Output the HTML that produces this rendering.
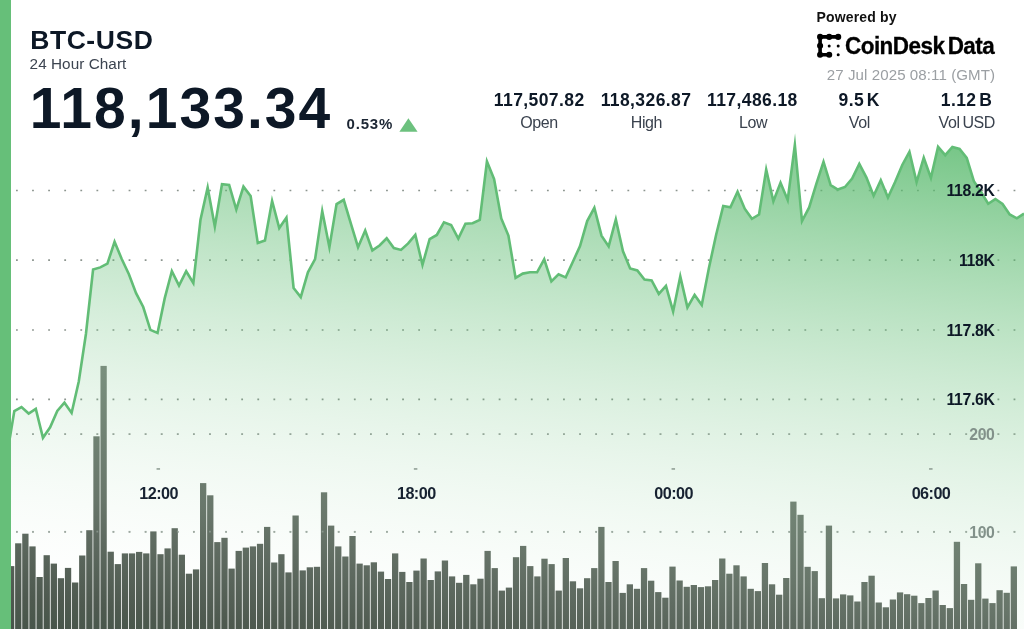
<!DOCTYPE html>
<html lang="en"><head><meta charset="utf-8"><title>BTC-USD 24 Hour Chart</title>
<style>
html,body{margin:0;padding:0;background:#fff}
body{width:1024px;height:629px;position:relative;overflow:hidden;font-family:"Liberation Sans",sans-serif;color:#0d1826}
svg.chart{position:absolute;left:0;top:0}
#txt{position:absolute;left:0;top:0;width:1024px;height:629px;will-change:transform}
.t{position:absolute;white-space:nowrap;line-height:1;margin:0}
.b{font-weight:bold}
.c{transform:translateX(-50%);text-align:center}
.r{transform:translateX(-100%);text-align:right}
.pair{left:30.2px;top:26.6px;font-size:26.5px;letter-spacing:.57px}
.sub{left:29.6px;top:55.8px;font-size:15.3px;letter-spacing:.05px;color:#3c4450}
.price{left:29.7px;top:80.1px;font-size:57px;letter-spacing:2.05px}
.pct{left:346.6px;top:116.3px;font-size:15px;letter-spacing:.78px;color:#1c2634}
.num{top:91.9px;font-size:17.5px;letter-spacing:.41px;word-spacing:-2.5px}
.lab{top:114.6px;font-size:16px;letter-spacing:-.4px;word-spacing:-1.2px;color:#3a424e}
.pow{left:816.5px;top:10.1px;font-size:14px;letter-spacing:.17px;color:#111}
.brand{left:845.2px;top:34.5px;font-size:23.3px;letter-spacing:-.55px;color:#000;word-spacing:-2.6px;transform-origin:0 0;transform:scaleX(.965);-webkit-text-stroke:.3px #000}
.date{left:995.2px;top:67.4px;font-size:15.1px;letter-spacing:.08px;color:#9b9fa3}
.ax{font-size:15.8px;letter-spacing:-.32px}
.tm{top:484.6px;font-size:16.2px;letter-spacing:-.55px;color:#172231}
.vol{color:#82918a}
</style></head><body>
<svg class="chart" width="1024" height="629" viewBox="0 0 1024 629">
<defs>
<linearGradient id="ga" gradientUnits="userSpaceOnUse" x1="1024" y1="136" x2="951.1" y2="743.1"><stop offset="0" stop-color="#5aba6e" stop-opacity="0.8750"/><stop offset="0.05" stop-color="#5aba6e" stop-opacity="0.7897"/><stop offset="0.1" stop-color="#5aba6e" stop-opacity="0.7087"/><stop offset="0.15" stop-color="#5aba6e" stop-opacity="0.6322"/><stop offset="0.2" stop-color="#5aba6e" stop-opacity="0.5600"/><stop offset="0.25" stop-color="#5aba6e" stop-opacity="0.4922"/><stop offset="0.3" stop-color="#5aba6e" stop-opacity="0.4287"/><stop offset="0.35" stop-color="#5aba6e" stop-opacity="0.3697"/><stop offset="0.4" stop-color="#5aba6e" stop-opacity="0.3150"/><stop offset="0.45" stop-color="#5aba6e" stop-opacity="0.2647"/><stop offset="0.5" stop-color="#5aba6e" stop-opacity="0.2188"/><stop offset="0.55" stop-color="#5aba6e" stop-opacity="0.1772"/><stop offset="0.6" stop-color="#5aba6e" stop-opacity="0.1400"/><stop offset="0.65" stop-color="#5aba6e" stop-opacity="0.1072"/><stop offset="0.7" stop-color="#5aba6e" stop-opacity="0.0788"/><stop offset="0.75" stop-color="#5aba6e" stop-opacity="0.0547"/><stop offset="0.8" stop-color="#5aba6e" stop-opacity="0.0350"/><stop offset="0.85" stop-color="#5aba6e" stop-opacity="0.0197"/><stop offset="0.9" stop-color="#5aba6e" stop-opacity="0.0087"/><stop offset="0.95" stop-color="#5aba6e" stop-opacity="0.0022"/><stop offset="1" stop-color="#5aba6e" stop-opacity="0.0000"/></linearGradient>
<linearGradient id="gb" gradientUnits="userSpaceOnUse" x1="1024" y1="136" x2="951.1" y2="743.1"><stop offset="0.5" stop-color="#7e9582"/><stop offset="0.566" stop-color="#788e7c"/><stop offset="0.77" stop-color="#68766a"/><stop offset="0.83" stop-color="#5f6b61"/><stop offset="0.946" stop-color="#4e594f"/><stop offset="0.968" stop-color="#4b584d"/><stop offset="1" stop-color="#47544a"/></linearGradient>
</defs>
<g stroke="#8c958f" stroke-width="1.7" stroke-dasharray="1.8 14.29" fill="none"><line x1="-0.1" x2="1024" y1="190.5" y2="190.5"/><line x1="-0.1" x2="1024" y1="260.2" y2="260.2"/><line x1="-0.1" x2="1024" y1="330" y2="330"/><line x1="-0.1" x2="1024" y1="399.4" y2="399.4"/><line x1="-0.1" x2="1024" y1="434.2" y2="434.2"/><line x1="-0.1" x2="1024" y1="531.8" y2="531.8"/></g>
<path d="M0 470 L7.16 454 L14.32 411 L21.48 407.08 L28.64 413.57 L35.8 408.87 L42.97 437.77 L50.13 427.3 L57.29 411 L64.45 402.73 L71.61 412.92 L78.77 381.5 L85.93 334 L93.09 269.5 L100.25 267.4 L107.41 263.7 L114.57 241.77 L121.73 259 L128.9 274.2 L136.06 293.1 L143.22 307 L150.38 329.9 L157.54 332.9 L164.7 298.4 L171.86 271.12 L179.02 285.6 L186.18 271.28 L193.34 283 L200.5 219.6 L207.66 187.43 L214.83 226.6 L221.99 184.18 L229.15 185 L236.31 209.5 L243.47 186.61 L250.63 196 L257.79 243.1 L264.95 240.6 L272.11 200.97 L279.27 228.1 L286.43 217.59 L293.59 288 L300.76 297.1 L307.92 272.3 L315.08 259.2 L322.24 211.01 L329.4 247.2 L336.56 204.1 L343.72 199.78 L350.88 223.7 L358.04 247.2 L365.2 230.51 L372.36 250.4 L379.52 245.5 L386.69 238.31 L393.85 248.1 L401.01 249.9 L408.17 243.4 L415.33 234.85 L422.49 264.8 L429.65 239 L436.81 235 L443.97 222.34 L451.13 225 L458.29 238.6 L465.45 223.7 L472.62 223.2 L479.78 219.8 L486.94 161.49 L494.1 179.1 L501.26 218.5 L508.42 235.6 L515.58 277.9 L522.74 273.6 L529.9 272.3 L537.06 272.3 L544.22 259.27 L551.38 281.4 L558.55 274.24 L565.71 277.4 L572.87 261.8 L580.03 246 L587.19 221.1 L594.35 207.77 L601.51 235.6 L608.67 246.4 L615.83 219.4 L622.99 251.3 L630.15 268.4 L637.31 270.5 L644.48 279.5 L651.64 280.5 L658.8 293.9 L665.96 285.89 L673.12 311.4 L680.28 276.37 L687.44 307.4 L694.6 294.96 L701.76 305 L708.92 268 L716.08 235 L723.24 206.05 L730.41 207.3 L737.57 191.73 L744.73 208.7 L751.89 218.8 L759.05 214.5 L766.21 169.57 L773.37 201.3 L780.53 182.68 L787.69 200 L794.85 144.97 L802.01 221 L809.17 207.4 L816.34 183.8 L823.5 161.72 L830.66 185.1 L837.82 189.5 L844.98 187 L852.14 178.5 L859.3 163.85 L866.46 177.6 L873.62 195.74 L880.78 180.33 L887.94 197.59 L895.1 182.1 L902.27 165 L909.43 151.85 L916.59 182.08 L923.75 157.73 L930.91 177.83 L938.07 146.87 L945.23 155.19 L952.39 146.94 L959.55 148.9 L966.71 157.9 L973.87 181.2 L981.03 192 L988.2 203.78 L995.36 199.05 L1002.52 204 L1009.68 214.5 L1016.84 218.35 L1024 213.6 L1024 629 L0 629 Z" fill="url(#ga)"/>
<path d="M0 470 L7.16 454 L14.32 411 L21.48 407.08 L28.64 413.57 L35.8 408.87 L42.97 437.77 L50.13 427.3 L57.29 411 L64.45 402.73 L71.61 412.92 L78.77 381.5 L85.93 334 L93.09 269.5 L100.25 267.4 L107.41 263.7 L114.57 241.77 L121.73 259 L128.9 274.2 L136.06 293.1 L143.22 307 L150.38 329.9 L157.54 332.9 L164.7 298.4 L171.86 271.12 L179.02 285.6 L186.18 271.28 L193.34 283 L200.5 219.6 L207.66 187.43 L214.83 226.6 L221.99 184.18 L229.15 185 L236.31 209.5 L243.47 186.61 L250.63 196 L257.79 243.1 L264.95 240.6 L272.11 200.97 L279.27 228.1 L286.43 217.59 L293.59 288 L300.76 297.1 L307.92 272.3 L315.08 259.2 L322.24 211.01 L329.4 247.2 L336.56 204.1 L343.72 199.78 L350.88 223.7 L358.04 247.2 L365.2 230.51 L372.36 250.4 L379.52 245.5 L386.69 238.31 L393.85 248.1 L401.01 249.9 L408.17 243.4 L415.33 234.85 L422.49 264.8 L429.65 239 L436.81 235 L443.97 222.34 L451.13 225 L458.29 238.6 L465.45 223.7 L472.62 223.2 L479.78 219.8 L486.94 161.49 L494.1 179.1 L501.26 218.5 L508.42 235.6 L515.58 277.9 L522.74 273.6 L529.9 272.3 L537.06 272.3 L544.22 259.27 L551.38 281.4 L558.55 274.24 L565.71 277.4 L572.87 261.8 L580.03 246 L587.19 221.1 L594.35 207.77 L601.51 235.6 L608.67 246.4 L615.83 219.4 L622.99 251.3 L630.15 268.4 L637.31 270.5 L644.48 279.5 L651.64 280.5 L658.8 293.9 L665.96 285.89 L673.12 311.4 L680.28 276.37 L687.44 307.4 L694.6 294.96 L701.76 305 L708.92 268 L716.08 235 L723.24 206.05 L730.41 207.3 L737.57 191.73 L744.73 208.7 L751.89 218.8 L759.05 214.5 L766.21 169.57 L773.37 201.3 L780.53 182.68 L787.69 200 L794.85 144.97 L802.01 221 L809.17 207.4 L816.34 183.8 L823.5 161.72 L830.66 185.1 L837.82 189.5 L844.98 187 L852.14 178.5 L859.3 163.85 L866.46 177.6 L873.62 195.74 L880.78 180.33 L887.94 197.59 L895.1 182.1 L902.27 165 L909.43 151.85 L916.59 182.08 L923.75 157.73 L930.91 177.83 L938.07 146.87 L945.23 155.19 L952.39 146.94 L959.55 148.9 L966.71 157.9 L973.87 181.2 L981.03 192 L988.2 203.78 L995.36 199.05 L1002.52 204 L1009.68 214.5 L1016.84 218.35 L1024 213.6" fill="none" stroke="#62bd76" stroke-width="2.6" stroke-linejoin="miter" stroke-miterlimit="14"/>
<g fill="url(#gb)"><rect x="0.9" y="575" width="6.3" height="54"/><rect x="8.01" y="566.1" width="6.3" height="62.9"/><rect x="15.12" y="543.3" width="6.3" height="85.7"/><rect x="22.23" y="533.7" width="6.3" height="95.3"/><rect x="29.34" y="546.4" width="6.3" height="82.6"/><rect x="36.46" y="577" width="6.3" height="52"/><rect x="43.57" y="555.2" width="6.3" height="73.8"/><rect x="50.68" y="563.6" width="6.3" height="65.4"/><rect x="57.79" y="578.2" width="6.3" height="50.8"/><rect x="64.9" y="567.9" width="6.3" height="61.1"/><rect x="72.01" y="582.5" width="6.3" height="46.5"/><rect x="79.12" y="555.5" width="6.3" height="73.5"/><rect x="86.23" y="530.2" width="6.3" height="98.8"/><rect x="93.34" y="436.3" width="6.3" height="192.7"/><rect x="100.46" y="365.9" width="6.3" height="263.1"/><rect x="107.57" y="551.7" width="6.3" height="77.3"/><rect x="114.68" y="564.1" width="6.3" height="64.9"/><rect x="121.79" y="553.4" width="6.3" height="75.6"/><rect x="128.9" y="553.4" width="6.3" height="75.6"/><rect x="136.01" y="551.9" width="6.3" height="77.1"/><rect x="143.12" y="553.4" width="6.3" height="75.6"/><rect x="150.23" y="531.4" width="6.3" height="97.6"/><rect x="157.34" y="554.2" width="6.3" height="74.8"/><rect x="164.46" y="548.4" width="6.3" height="80.6"/><rect x="171.57" y="528.2" width="6.3" height="100.8"/><rect x="178.68" y="554.7" width="6.3" height="74.3"/><rect x="185.79" y="573.7" width="6.3" height="55.3"/><rect x="192.9" y="569.4" width="6.3" height="59.6"/><rect x="200.01" y="483.1" width="6.3" height="145.9"/><rect x="207.12" y="495.3" width="6.3" height="133.7"/><rect x="214.23" y="542.1" width="6.3" height="86.9"/><rect x="221.34" y="537.8" width="6.3" height="91.2"/><rect x="228.46" y="568.6" width="6.3" height="60.4"/><rect x="235.57" y="550.9" width="6.3" height="78.1"/><rect x="242.68" y="547.6" width="6.3" height="81.4"/><rect x="249.79" y="546.4" width="6.3" height="82.6"/><rect x="256.9" y="543.8" width="6.3" height="85.2"/><rect x="264.01" y="526.9" width="6.3" height="102.1"/><rect x="271.12" y="562.5" width="6.3" height="66.5"/><rect x="278.23" y="554.2" width="6.3" height="74.8"/><rect x="285.34" y="572.4" width="6.3" height="56.6"/><rect x="292.46" y="515.5" width="6.3" height="113.5"/><rect x="299.57" y="570.4" width="6.3" height="58.6"/><rect x="306.68" y="567.3" width="6.3" height="61.7"/><rect x="313.79" y="566.8" width="6.3" height="62.2"/><rect x="320.9" y="492.3" width="6.3" height="136.7"/><rect x="328.01" y="525.6" width="6.3" height="103.4"/><rect x="335.12" y="546.4" width="6.3" height="82.6"/><rect x="342.23" y="556.5" width="6.3" height="72.5"/><rect x="349.34" y="536" width="6.3" height="93"/><rect x="356.46" y="563.6" width="6.3" height="65.4"/><rect x="363.57" y="565.3" width="6.3" height="63.7"/><rect x="370.68" y="562.3" width="6.3" height="66.7"/><rect x="377.79" y="571.6" width="6.3" height="57.4"/><rect x="384.9" y="579" width="6.3" height="50"/><rect x="392.01" y="553.4" width="6.3" height="75.6"/><rect x="399.12" y="571.9" width="6.3" height="57.1"/><rect x="406.23" y="582" width="6.3" height="47"/><rect x="413.34" y="570.6" width="6.3" height="58.4"/><rect x="420.46" y="558.5" width="6.3" height="70.5"/><rect x="427.57" y="580" width="6.3" height="49"/><rect x="434.68" y="571.4" width="6.3" height="57.6"/><rect x="441.79" y="560.5" width="6.3" height="68.5"/><rect x="448.9" y="576.4" width="6.3" height="52.6"/><rect x="456.01" y="582.8" width="6.3" height="46.2"/><rect x="463.12" y="574.9" width="6.3" height="54.1"/><rect x="470.23" y="584.3" width="6.3" height="44.7"/><rect x="477.34" y="578.7" width="6.3" height="50.3"/><rect x="484.46" y="550.9" width="6.3" height="78.1"/><rect x="491.57" y="568.1" width="6.3" height="60.9"/><rect x="498.68" y="590.6" width="6.3" height="38.4"/><rect x="505.79" y="587.6" width="6.3" height="41.4"/><rect x="512.9" y="557.2" width="6.3" height="71.8"/><rect x="520.01" y="545.9" width="6.3" height="83.1"/><rect x="527.12" y="566.1" width="6.3" height="62.9"/><rect x="534.23" y="576.4" width="6.3" height="52.6"/><rect x="541.34" y="558.7" width="6.3" height="70.3"/><rect x="548.46" y="564.1" width="6.3" height="64.9"/><rect x="555.57" y="590.6" width="6.3" height="38.4"/><rect x="562.68" y="558" width="6.3" height="71"/><rect x="569.79" y="581.3" width="6.3" height="47.7"/><rect x="576.9" y="588.3" width="6.3" height="40.7"/><rect x="584.01" y="578.2" width="6.3" height="50.8"/><rect x="591.12" y="568.1" width="6.3" height="60.9"/><rect x="598.23" y="526.9" width="6.3" height="102.1"/><rect x="605.34" y="582" width="6.3" height="47"/><rect x="612.46" y="561" width="6.3" height="68"/><rect x="619.57" y="592.9" width="6.3" height="36.1"/><rect x="626.68" y="584.3" width="6.3" height="44.7"/><rect x="633.79" y="588.8" width="6.3" height="40.2"/><rect x="640.9" y="568.1" width="6.3" height="60.9"/><rect x="648.01" y="580.7" width="6.3" height="48.3"/><rect x="655.12" y="592.1" width="6.3" height="36.9"/><rect x="662.23" y="597.7" width="6.3" height="31.3"/><rect x="669.34" y="566.6" width="6.3" height="62.4"/><rect x="676.46" y="580.5" width="6.3" height="48.5"/><rect x="683.57" y="586.8" width="6.3" height="42.2"/><rect x="690.68" y="585" width="6.3" height="44"/><rect x="697.79" y="587.1" width="6.3" height="41.9"/><rect x="704.9" y="586.3" width="6.3" height="42.7"/><rect x="712.01" y="580" width="6.3" height="49"/><rect x="719.12" y="558.5" width="6.3" height="70.5"/><rect x="726.23" y="573.7" width="6.3" height="55.3"/><rect x="733.34" y="565.3" width="6.3" height="63.7"/><rect x="740.46" y="576.4" width="6.3" height="52.6"/><rect x="747.57" y="588.8" width="6.3" height="40.2"/><rect x="754.68" y="591.1" width="6.3" height="37.9"/><rect x="761.79" y="563" width="6.3" height="66"/><rect x="768.9" y="584.3" width="6.3" height="44.7"/><rect x="776.01" y="594.7" width="6.3" height="34.3"/><rect x="783.12" y="578" width="6.3" height="51"/><rect x="790.23" y="501.6" width="6.3" height="127.4"/><rect x="797.34" y="514.8" width="6.3" height="114.2"/><rect x="804.46" y="566.8" width="6.3" height="62.2"/><rect x="811.57" y="571.1" width="6.3" height="57.9"/><rect x="818.68" y="598.2" width="6.3" height="30.8"/><rect x="825.79" y="525.6" width="6.3" height="103.4"/><rect x="832.9" y="598.4" width="6.3" height="30.6"/><rect x="840.01" y="594.4" width="6.3" height="34.6"/><rect x="847.12" y="595.4" width="6.3" height="33.6"/><rect x="854.23" y="601.5" width="6.3" height="27.5"/><rect x="861.34" y="582" width="6.3" height="47"/><rect x="868.46" y="575.7" width="6.3" height="53.3"/><rect x="875.57" y="602.5" width="6.3" height="26.5"/><rect x="882.68" y="607.3" width="6.3" height="21.7"/><rect x="889.79" y="599.5" width="6.3" height="29.5"/><rect x="896.9" y="592.4" width="6.3" height="36.6"/><rect x="904.01" y="594.2" width="6.3" height="34.8"/><rect x="911.12" y="595.7" width="6.3" height="33.3"/><rect x="918.23" y="603.1" width="6.3" height="25.9"/><rect x="925.34" y="598" width="6.3" height="31"/><rect x="932.46" y="590.5" width="6.3" height="38.5"/><rect x="939.57" y="605" width="6.3" height="24"/><rect x="946.68" y="608.1" width="6.3" height="20.9"/><rect x="953.79" y="541.8" width="6.3" height="87.2"/><rect x="960.9" y="584" width="6.3" height="45"/><rect x="968.01" y="599.8" width="6.3" height="29.2"/><rect x="975.12" y="563.3" width="6.3" height="65.7"/><rect x="982.23" y="598.6" width="6.3" height="30.4"/><rect x="989.34" y="603.1" width="6.3" height="25.9"/><rect x="996.46" y="590.2" width="6.3" height="38.8"/><rect x="1003.57" y="592.8" width="6.3" height="36.2"/><rect x="1010.68" y="566.4" width="6.3" height="62.6"/></g>
<g stroke="#b4c0b8" stroke-opacity=".45" stroke-width="1.7" stroke-dasharray="1.8 14.29" fill="none"><line x1="-0.1" x2="1024" y1="434" y2="434"/><line x1="-0.1" x2="1024" y1="531.7" y2="531.7"/></g>
<rect x="156.55" y="468.2" width="3.5" height="1.5" fill="#8a9a90"/><rect x="413.85" y="468.2" width="3.5" height="1.5" fill="#8a9a90"/><rect x="671.55" y="468.2" width="3.5" height="1.5" fill="#8a9a90"/><rect x="929.05" y="468.2" width="3.5" height="1.5" fill="#8a9a90"/>
<rect x="0" y="0" width="11" height="629" fill="#66bf79"/>
<polygon points="408.4,118.2 417.6,131.8 399.4,131.8" fill="#6cc17e"/>
<g fill="#000" stroke="#000" stroke-width="3.1" stroke-linecap="round" stroke-linejoin="round">
<path d="M838.2 36.9 H820.1 V54.8 H829.2" fill="none" stroke-width="3.6"/>
<circle cx="820.1" cy="36.9" r="1.5"/><circle cx="829.2" cy="36.9" r="1.5"/><circle cx="838.2" cy="36.9" r="1.5"/>
<circle cx="820.1" cy="45.8" r="1.5"/><circle cx="820.1" cy="54.8" r="1.5"/><circle cx="829.2" cy="54.8" r="1.5"/>
</g>
<g fill="#000"><circle cx="829.2" cy="45.9" r="1.5"/><circle cx="838.2" cy="45.9" r="1.5"/><circle cx="838.2" cy="54.8" r="1.5"/></g>
</svg>
<div id="txt"><div class="t b pair">BTC-USD</div>
<div class="t sub">24 Hour Chart</div>
<div class="t b price">118,133.34</div>
<div class="t b pct">0.53%</div>
<div class="t b pow">Powered by</div>
<div class="t b brand">CoinDesk Data</div>
<div class="t r date">27 Jul 2025 08:11 (GMT)</div>
<div class="t b c num" style="left:539.2px">117,507.82</div><div class="t c lab" style="left:539px">Open</div>
<div class="t b c num" style="left:646px">118,326.87</div><div class="t c lab" style="left:646.4px">High</div>
<div class="t b c num" style="left:752.4px">117,486.18</div><div class="t c lab" style="left:753px">Low</div>
<div class="t b c num" style="left:859.2px">9.5 K</div><div class="t c lab" style="left:859.4px">Vol</div>
<div class="t b c num" style="left:966.5px">1.12 B</div><div class="t c lab" style="left:966.8px">Vol USD</div>
<div class="t b r ax" style="left:994.6px;top:183px">118.2K</div>
<div class="t b r ax" style="left:994.6px;top:253px">118K</div>
<div class="t b r ax" style="left:994.6px;top:323px">117.8K</div>
<div class="t b r ax" style="left:994.6px;top:392px">117.6K</div>
<div class="t b r ax vol" style="left:994.6px;top:427px">200</div>
<div class="t b r ax vol" style="left:994.6px;top:525px">100</div>
<div class="t b c tm" style="left:158.6px">12:00</div>
<div class="t b c tm" style="left:416.3px">18:00</div>
<div class="t b c tm" style="left:673.6px">00:00</div>
<div class="t b c tm" style="left:931px">06:00</div>
</div>
</body></html>
